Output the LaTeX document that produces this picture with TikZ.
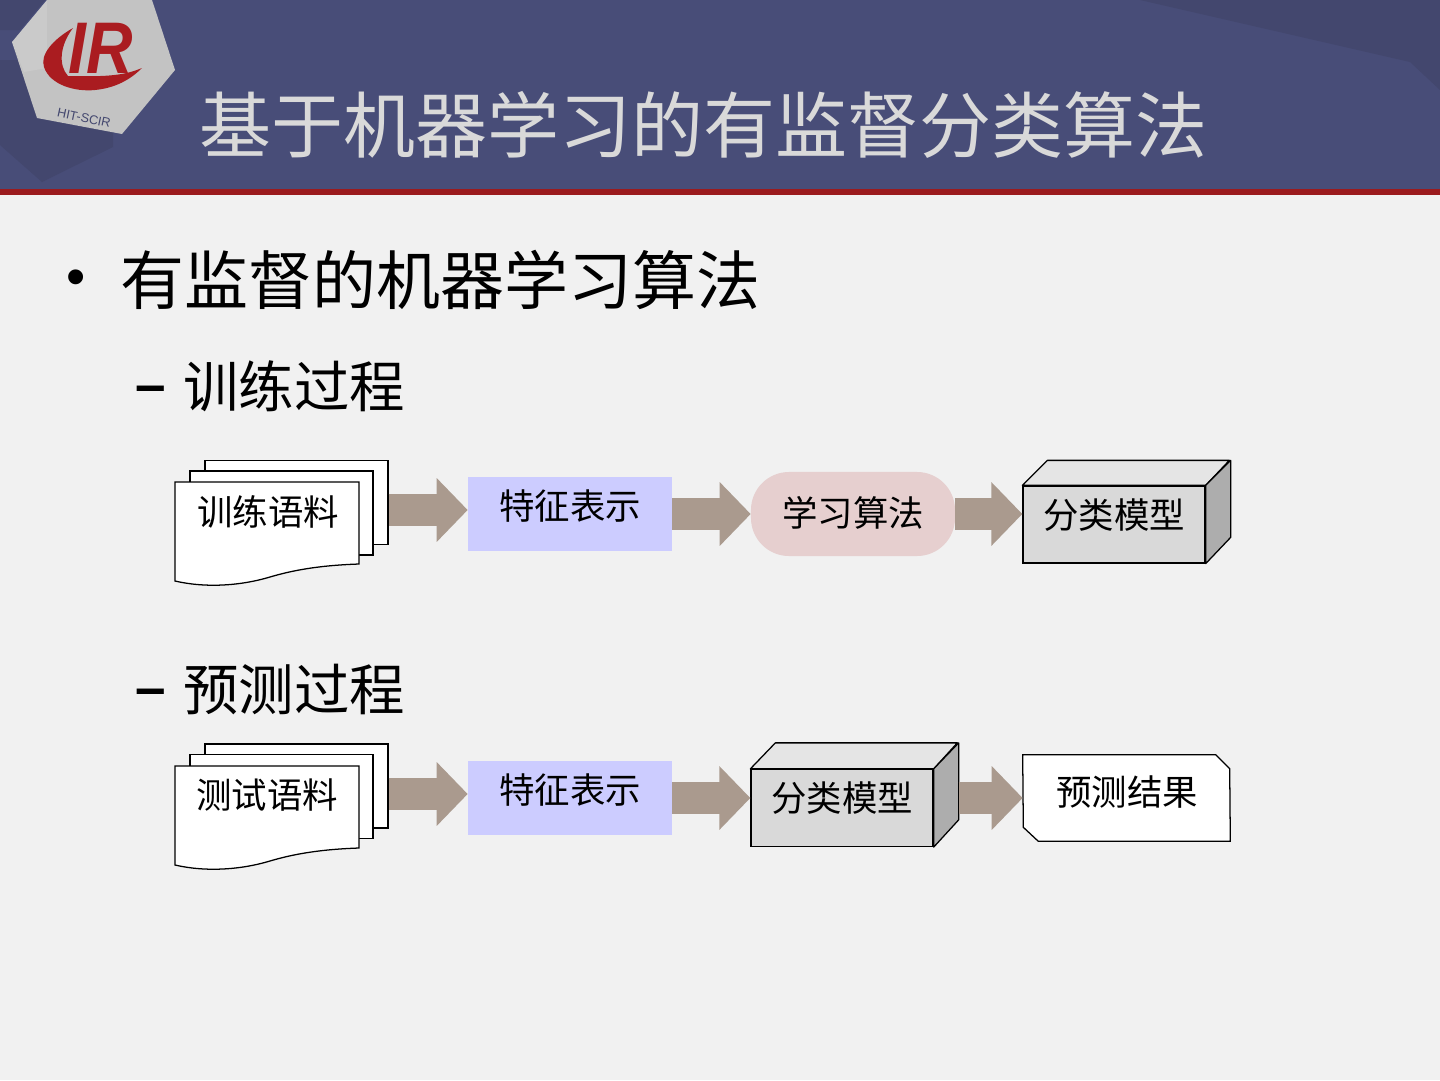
\documentclass[tikz,border=0pt]{standalone}
\usepackage{fontspec}
\setmainfont{Liberation Sans}
\newfontfamily\cjk{Noto Sans CJK SC}
\usepackage{xcolor}
\usepackage{tikz}
\usetikzlibrary{arrows.meta,positioning}

\begin{document}
\begin{tikzpicture}[x=0.025cm, y=-0.025cm, font=\cjk]

        \useasboundingbox (0, 0) rectangle (1440, 1080);
        \definecolor{slidebg}{RGB}{241, 241, 241}
        \definecolor{bandblue}{RGB}{72, 77, 120}
        \definecolor{banddark}{RGB}{67, 71, 110}
        \definecolor{barred}{RGB}{155, 27, 30}
        \definecolor{logored}{RGB}{170, 28, 32}
        \definecolor{logogray}{RGB}{195, 195, 195}
        \definecolor{titlegray}{RGB}{217, 217, 217}
        \definecolor{arrowbrown}{RGB}{170, 154, 142}
        \definecolor{featblue}{RGB}{204, 204, 255}
        \definecolor{algopink}{RGB}{230, 207, 207}
        \tikzset{
            title/.style={anchor=west, text=titlegray, font=\cjk\fontsize{51.2}{60}\selectfont, inner sep=0pt},
            heading/.style={anchor=west, text=black, font=\cjk\fontsize{45.5}{54}\selectfont, inner sep=0pt},
            subheading/.style={anchor=west, text=black, font=\cjk\fontsize{39.4}{47}\selectfont, inner sep=0pt},
            boxtext/.style={text=black, font=\cjk\fontsize{25.2}{30}\selectfont, inner sep=0pt},
            sheet/.style={draw=black, fill=white, line width=0.9pt, minimum width=4.575cm, minimum height=2.1cm, inner sep=0pt},
            docsheet/.style={draw=black, fill=white, line width=0.9pt},
            feature/.style={fill=featblue, minimum width=5.1cm, minimum height=1.85cm, inner sep=0pt},
            algo/.style={fill=algopink, rounded corners=0.95cm, minimum width=5.1cm, minimum height=2.1cm, inner sep=0pt},
            front/.style={draw=black, fill=black!15, line width=0.9pt, minimum width=4.55cm, minimum height=1.925cm, inner sep=0pt},
            topface/.style={draw=black, fill=black!10, line width=0.9pt, line join=round},
            sideface/.style={draw=black, fill=black!32, line width=0.9pt, line join=round},
            result/.style={minimum width=5.175cm, minimum height=2.15cm, inner sep=0pt},
            blockarrow/.style={-{Triangle[length=0.775cm, width=1.55cm]}, draw=arrowbrown, line width=0.8cm}
        }


        \fill[slidebg] (0, 0) rectangle (1440, 1080);
        \fill[bandblue] (0, 0) rectangle (1440, 189);
        \fill[banddark] (1140, 0) -- (1410, 62) -- (1440, 90) -- (1440, 0) -- cycle;
        \fill[banddark] (0, 145) -- (42, 182) -- (113, 147) -- (113, 120) -- (20, 60) -- (0, 60) -- cycle;
        \fill[banddark] (0, 0) -- (45, 0) -- (20, 30) -- (0, 30) -- cycle;
        \fill[barred] (0, 189) rectangle (1440, 195);


        \fill[logogray] (12, 42) -- (47, 0) -- (152, 0) -- (175, 70) -- (122, 134) -- (37, 118) -- cycle;
        \fill[white, opacity=0.12] (12, 42) -- (47, 0) -- (47, 68) -- (24, 72) -- cycle;
        \fill[logored] (73, 28) .. controls (52, 40) and (40, 55) .. (44, 67) .. controls (50, 85) and (75, 92) .. (95, 90) .. controls (115, 88) and (130, 80) .. (142, 68) .. controls (125, 75) and (110, 77) .. (68, 76) .. controls (58, 65) and (60, 45) .. (73, 28) -- cycle;
        \node[text=logored, font=\fontsize{52}{52}\selectfont\bfseries\itshape, inner sep=0pt, xscale=0.88] (logo_ir) at (101, 48) {IR};
        \node[text=banddark, font=\fontsize{9}{11}\selectfont, rotate=-12, inner sep=0pt] (logo_name) at (84, 118) {HIT-SCIR};


        \node[title] (slide_title) at (199, 125) {基于机器学习的有监督分类算法};
        \node[anchor=center, font=\fontsize{39}{42}\selectfont, inner sep=0pt] (bullet) at (76, 283) {•};
        \node[heading] (main_item) at (120, 280) {有监督的机器学习算法};
        \node[font=\fontsize{39}{47}\selectfont\bfseries, inner sep=0pt] (train_dash) at (151, 395) {–};
        \node[subheading] (train_item) at (183, 386) {训练过程};
        \node[font=\fontsize{39}{47}\selectfont\bfseries, inner sep=0pt] (test_dash) at (151, 698) {–};
        \node[subheading] (test_item) at (183, 689) {预测过程};


        \node[sheet] (train_back) at (296.5, 502.5) {};
        \node[sheet] (train_mid) at (281.5, 513) {};
        \draw[docsheet] (175, 482) -- (359, 482) -- (359, 564) .. controls (330, 565) and (300, 568) .. (270, 577) .. controls (240, 586) and (205, 588) .. (175, 581) -- cycle;
        \node[boxtext] (train_doc) at (268, 512) {训练语料};

        \node[feature] (train_feat) at (570, 514) {};
        \node[boxtext] (train_feat_text) at (570, 506) {特征表示};
        \node[algo] (train_algo) at (853, 514) {};
        \node[boxtext] (train_algo_text) at (853, 513) {学习算法};

        \node[front] (train_model) at (1114, 524.5) {};
        \draw[topface] (train_model.north west) -- ++(25, -25) -- ++(182, 0) -- (train_model.north east) -- cycle;
        \draw[sideface] (train_model.north east) -- ++(25, -25) -- ++(0, 77) -- (train_model.south east) -- cycle;
        \node[boxtext] (train_model_text) at (1114, 515) {分类模型};


        \node[sheet] (test_back) at (296.5, 786) {};
        \node[sheet] (test_mid) at (281.5, 796.5) {};
        \draw[docsheet] (175, 766) -- (359, 766) -- (359, 848) .. controls (330, 849) and (300, 852) .. (270, 861) .. controls (240, 870) and (205, 872) .. (175, 865) -- cycle;
        \node[boxtext] (test_doc) at (267, 795) {测试语料};

        \node[feature] (test_feat) at (570, 798) {};
        \node[boxtext] (test_feat_text) at (570, 790) {特征表示};

        \node[front] (test_model) at (842, 808) {};
        \draw[topface] (test_model.north west) -- ++(25, -26) -- ++(182, 0) -- (test_model.north east) -- cycle;
        \draw[sideface] (test_model.north east) -- ++(25, -26) -- ++(0, 77) -- (test_model.south east) -- cycle;
        \node[boxtext] (test_model_text) at (842, 798) {分类模型};

        \node[result] (test_result) at (1126.5, 798) {};
        \draw[docsheet] (test_result.north west) -- ++(193, 0) -- ++(14, 14) -- (test_result.south east) -- ++(-192, 0) -- ++(-15, -14) -- cycle;
        \node[boxtext] (test_result_text) at (1127, 792) {预测结果};


        \draw[blockarrow] ([yshift=0.1cm]train_back.east |- train_feat.west) -- ([yshift=0.1cm]train_feat.west);
        \draw[blockarrow] (train_feat.east) -- (train_algo.west);
        \draw[blockarrow] (train_algo.east) -- (train_model.west |- train_algo.east);

        \draw[blockarrow] ([yshift=0.1cm]test_back.east |- test_feat.west) -- ([yshift=0.1cm]test_feat.west);
        \draw[blockarrow] (test_feat.east) -- (test_model.west |- test_feat.east);
        \draw[blockarrow] (test_model.east |- test_result.west) ++(25, 0) -- (test_result.west);

    \end{tikzpicture}
\end{document}
